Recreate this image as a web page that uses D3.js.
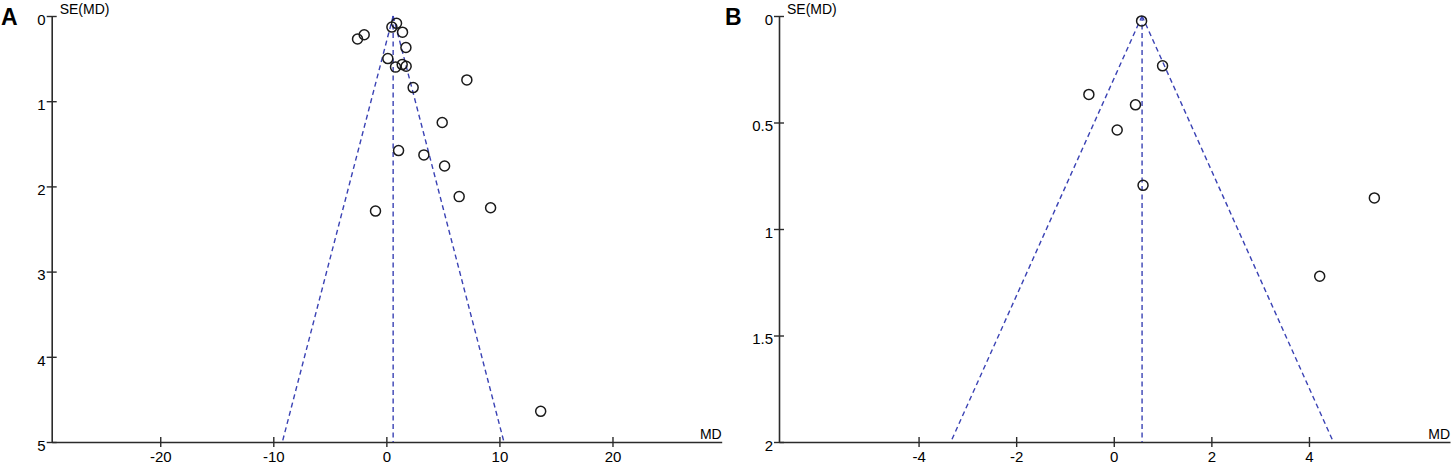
<!DOCTYPE html>
<html>
<head>
<meta charset="utf-8">
<script src="https://cdn.jsdelivr.net/npm/d3@7"></script>
<style>
  body { margin: 0; background: #fff; }
  text { font-family: "Liberation Sans", Arial, sans-serif; }
</style>
</head>
<body>
<svg id="chart"></svg>
<script>
const width = 1452;
const height = 466;

// Panel A studies: mean difference and its standard error
const studyMdA = [0.9, 0.49, 1.43, -1.96, -2.55, 1.73, 0.13, 0.81, 1.40, 1.75, 7.12, 2.37, 4.94, 1.08, 3.32, 5.15, 6.44, 9.22, -0.96, 13.65];
const studySeA = [0.086, 0.13, 0.19, 0.22, 0.27, 0.37, 0.50, 0.60, 0.57, 0.59, 0.75, 0.84, 1.25, 1.58, 1.63, 1.76, 2.12, 2.25, 2.29, 4.64];
const pooledA = 0.6;
const xTicksA = [-20, -10, 0, 10, 20];
const yTicksA = [0, 1, 2, 3, 4, 5];

// Panel B studies
const studyMdB = [0.57, 1.0, -0.51, 0.445, 0.07, 0.6, 5.34, 4.22];
const studySeB = [0.023, 0.234, 0.368, 0.417, 0.535, 0.795, 0.854, 1.222];
const pooledB = 0.58;
const xTicksB = [-4, -2, 0, 2, 4];
const yTicksB = [0, 0.5, 1, 1.5, 2];

const svg = d3.select("#chart")
  .attr("width", width)
  .attr("height", height)
  .attr("viewBox", [0, 0, width, height]);

// plain hyphen for negatives, like the original
const fmt = d => String(d);

// **************************** one funnel plot panel ******************************************
function funnelPanel(opt) {
  const x = d3.scaleLinear().domain(opt.xDomain).range(opt.xRange);
  const y = d3.scaleLinear().domain(opt.yDomain).range([16, 442]);
  const g = svg.append("g");
  const axisColor = "#2b2b2b";

  // x axis with ticks crossing the line
  const xAxis = g.append("g")
    .attr("transform", `translate(0,${y(opt.yDomain[1])})`)
    .call(d3.axisBottom(x).tickValues(opt.xTicks).tickSizeOuter(0).tickFormat(fmt));
  xAxis.select(".domain").attr("stroke", axisColor).attr("stroke-width", 1.6);
  xAxis.selectAll(".tick line").attr("y1", -5).attr("y2", 5).attr("stroke", axisColor).attr("stroke-width", 1.4);
  xAxis.selectAll(".tick text").attr("y", 9).attr("dy", "0.71em")
    .attr("font-size", 15).attr("fill", "#000")
    .attr("font-family", "'Liberation Sans', Arial, sans-serif");

  // y axis, 0 at the top
  const yAxis = g.append("g")
    .attr("transform", `translate(${opt.xRange[0]},0)`)
    .call(d3.axisLeft(y).tickValues(opt.yTicks).tickSizeOuter(0).tickFormat(fmt));
  yAxis.select(".domain").attr("stroke", axisColor).attr("stroke-width", 1.6);
  yAxis.selectAll(".tick line").attr("x1", -5).attr("x2", 5).attr("stroke", axisColor).attr("stroke-width", 1.4);
  yAxis.selectAll(".tick text").attr("x", -6).attr("dy", "0.55em")
    .attr("font-size", 15).attr("fill", "#000")
    .attr("font-family", "'Liberation Sans', Arial, sans-serif");

  // axis titles
  g.append("text")
    .attr("x", opt.xRange[0] + 8)
    .attr("y", 14)
    .attr("font-size", 14)
    .attr("fill", "#000")
    .text("SE(MD)");
  g.append("text")
    .attr("x", opt.xRange[1])
    .attr("y", 439)
    .attr("text-anchor", "end")
    .attr("font-size", 14)
    .attr("fill", "#000")
    .text("MD");

  // panel letter
  g.append("text")
    .attr("x", opt.letterX)
    .attr("y", 25)
    .attr("font-size", 23)
    .attr("font-weight", "bold")
    .attr("fill", "#000")
    .text(opt.letter);

  // funnel: pooled estimate and 95% limits
  const seMax = opt.yDomain[1];
  const lines = [
    [[opt.pooled, 0], [opt.pooled, seMax]],
    [[opt.pooled, 0], [opt.pooled - 1.96 * seMax, seMax]],
    [[opt.pooled, 0], [opt.pooled + 1.96 * seMax, seMax]]
  ];
  const line = d3.line().x(d => x(d[0])).y(d => y(d[1]));
  g.selectAll("path.funnel")
    .data(lines)
    .join("path")
    .attr("class", "funnel")
    .attr("d", line)
    .attr("fill", "none")
    .attr("stroke", "#3a42b4")
    .attr("stroke-width", 1.4)
    .attr("stroke-dasharray", "5,3.5");

  // studies
  const data = opt.md.map((d, i) => ({md: d, se: opt.se[i]}));
  g.selectAll("circle")
    .data(data)
    .join("circle")
    .attr("cx", d => x(d.md))
    .attr("cy", d => y(d.se))
    .attr("r", 5)
    .attr("fill", "none")
    .attr("stroke", "#1a1a1a")
    .attr("stroke-width", 1.5);
}

funnelPanel({
  letter: "A", letterX: 1,
  xDomain: [-29.6, 29.66], xRange: [51.7, 721.7],
  yDomain: [0, 5],
  xTicks: xTicksA, yTicks: yTicksA,
  pooled: pooledA, md: studyMdA, se: studySeA
});

funnelPanel({
  letter: "B", letterX: 725,
  xDomain: [-6.86, 6.89], xRange: [779, 1450],
  yDomain: [0, 2],
  xTicks: xTicksB, yTicks: yTicksB,
  pooled: pooledB, md: studyMdB, se: studySeB
});
</script>
</body>
</html>
